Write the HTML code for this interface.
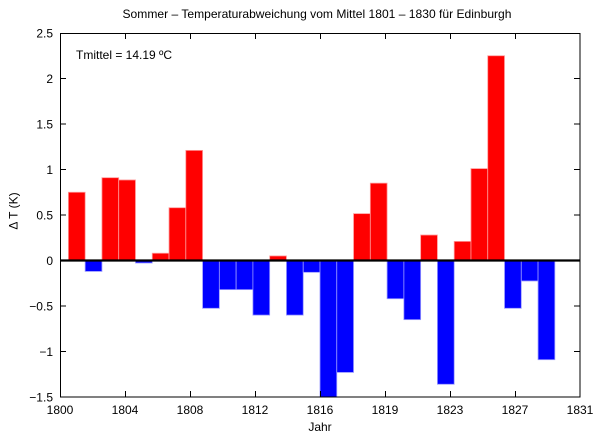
<!DOCTYPE html>
<html><head><meta charset="utf-8"><style>
html,body{margin:0;padding:0;background:#fff;}
svg{display:block;font-family:"Liberation Sans",Arial,sans-serif;}
</style></head><body>
<svg width="600" height="439" viewBox="0 0 600 439" xmlns="http://www.w3.org/2000/svg">
<defs><clipPath id="c"><rect x="60" y="33" width="520" height="364"/></clipPath></defs>
<rect width="600" height="439" fill="#fff"/>
<g clip-path="url(#c)">
<g fill="#ff0000" stroke="#ff9a9a" stroke-width="0.8">
<rect x="68.39" y="192.25" width="16.77" height="68.25"/>
<rect x="101.94" y="177.69" width="16.77" height="82.81"/>
<rect x="118.71" y="179.96" width="16.77" height="80.54"/>
<rect x="152.26" y="253.22" width="16.77" height="7.28"/>
<rect x="169.03" y="207.72" width="16.77" height="52.78"/>
<rect x="185.81" y="150.39" width="16.77" height="110.11"/>
<rect x="269.68" y="255.95" width="16.77" height="4.55"/>
<rect x="353.55" y="213.63" width="16.77" height="46.87"/>
<rect x="370.32" y="183.15" width="16.77" height="77.35"/>
<rect x="420.65" y="235.02" width="16.77" height="25.48"/>
<rect x="454.19" y="241.39" width="16.77" height="19.11"/>
<rect x="470.97" y="168.59" width="16.77" height="91.91"/>
<rect x="487.74" y="55.75" width="16.77" height="204.75"/>
</g>
<g fill="#0000ff" stroke="#9a9aff" stroke-width="0.8">
<rect x="85.16" y="260.5" width="16.77" height="10.92"/>
<rect x="135.48" y="260.5" width="16.77" height="2.5"/>
<rect x="202.58" y="260.5" width="16.77" height="47.78"/>
<rect x="219.35" y="260.5" width="16.77" height="29.12"/>
<rect x="236.13" y="260.5" width="16.77" height="29.12"/>
<rect x="252.90" y="260.5" width="16.77" height="54.6"/>
<rect x="286.45" y="260.5" width="16.77" height="54.6"/>
<rect x="303.23" y="260.5" width="16.77" height="11.83"/>
<rect x="320.00" y="260.5" width="16.77" height="145"/>
<rect x="336.77" y="260.5" width="16.77" height="111.93"/>
<rect x="387.10" y="260.5" width="16.77" height="38.22"/>
<rect x="403.87" y="260.5" width="16.77" height="59.15"/>
<rect x="437.42" y="260.5" width="16.77" height="123.76"/>
<rect x="504.52" y="260.5" width="16.77" height="47.78"/>
<rect x="521.29" y="260.5" width="16.77" height="20.48"/>
<rect x="538.06" y="260.5" width="16.77" height="99.19"/>
</g>
</g>
<line x1="60" y1="260.5" x2="580" y2="260.5" stroke="#000" stroke-width="2.2"/>
<rect x="60.5" y="33.5" width="519.5" height="363.5" fill="none" stroke="#000" stroke-width="1"/>
<g stroke="#000" stroke-width="1">
<path d="M125.5 397v-6M190.5 397v-6M255.5 397v-6M320.5 397v-6M385.5 397v-6M450.5 397v-6M515.5 397v-6
M125.5 33v6M190.5 33v6M255.5 33v6M320.5 33v6M385.5 33v6M450.5 33v6M515.5 33v6"/>
<path d="M60 78.5h6M60 124h6M60 169.5h6M60 215h6M60 306h6M60 351.5h6
M580 78.5h-6M580 124h-6M580 169.5h-6M580 215h-6M580 306h-6M580 351.5h-6"/>
</g>
<g font-size="12" fill="#000" text-anchor="end">
<text x="53" y="37.5">2.5</text>
<text x="53" y="83">2</text>
<text x="53" y="128.5">1.5</text>
<text x="53" y="174">1</text>
<text x="53" y="219.5">0.5</text>
<text x="53" y="265">0</text>
<text x="53" y="310.5">−0.5</text>
<text x="53" y="356">−1</text>
<text x="53" y="401.5">−1.5</text>
</g>
<g font-size="12" fill="#000" text-anchor="middle">
<text x="60" y="414">1800</text>
<text x="125" y="414">1804</text>
<text x="190" y="414">1808</text>
<text x="255" y="414">1812</text>
<text x="320" y="414">1816</text>
<text x="385" y="414">1819</text>
<text x="450" y="414">1823</text>
<text x="515" y="414">1827</text>
<text x="580" y="414">1831</text>
<text x="320" y="431">Jahr</text>
<text x="317" y="18" textLength="389" lengthAdjust="spacingAndGlyphs">Sommer – Temperaturabweichung vom Mittel 1801 – 1830 für Edinburgh</text>
<text transform="translate(17.5,211) rotate(-90)">Δ T (K)</text>
</g>
<text x="76" y="59" font-size="12" fill="#000">Tmittel = 14.19 ºC</text>
</svg>
</body></html>
